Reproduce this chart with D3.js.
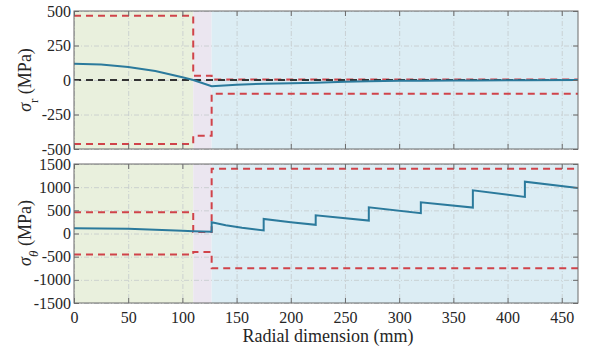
<!DOCTYPE html>
<meta charset="utf-8">
<style>
body { margin: 0; background: #fff; }
.grid line { stroke: #c4c9cc; stroke-width: 0.8px; stroke-dasharray: 5,2,1,2; }
.grid path { stroke-width: 0; }
.axis path, .axis line { stroke: #6b6b6b; }
.curve { fill: none; stroke: #2b7a9c; stroke-width: 2px; }
.limit { fill: none; stroke: #d0434a; stroke-width: 2px; stroke-dasharray: 7,5; }
.zero { fill: none; stroke: #333; stroke-width: 2px; stroke-dasharray: 7,5; }
</style>
<body>
<script src="https://d3js.org/d3.v7.min.js"></script>
<script>

// regions along the radius (mm) and their fills
var regions = [[0, 110], [110, 127], [127, 465]];
var regionColors = ["#e9f0dd", "#ebe6f0", "#dcedf4"];

var xTicks = [0, 50, 100, 150, 200, 250, 300, 350, 400, 450];
var yTicksR = [-500, -250, 0, 250, 500];
var yTicksT = [-1500, -1000, -500, 0, 500, 1000, 1500];

// radial stress (MPa)
var sigmaR = [[0, 118], [25, 112], [50, 95], [75, 65], [100, 20], [110, 0], [127, -45],
  [150, -35], [175, -27], [200, -24], [223, -20], [250, -12], [272, -9], [300, -6],
  [320, -5], [350, -3], [368, -3], [400, -1], [416, -1], [465, 0]];
// radial stress limits
var upperR = [[0, 466], [110, 466], [110, 31], [127, 31], [127, 4], [465, 4]];
var lowerR = [[0, -464], [110, -464], [110, -404], [127, -404], [127, -100], [465, -100]];

// hoop stress (MPa)
var sigmaT = [[0, 115], [50, 100], [100, 60], [110, 50], [127, 40],
  [127, 245], [140, 180], [155, 125], [175, 65],
  [175, 315], [200, 245], [223, 187],
  [223, 393], [272, 280],
  [272, 566], [320, 437],
  [320, 673], [368, 559],
  [368, 931], [416, 789],
  [416, 1118], [465, 982]];
// hoop stress limits
var upperT = [[0, 460], [110, 460], [110, 35], [127, 35], [127, 1400], [465, 1400]];
var lowerT = [[0, -455], [110, -455], [110, -400], [127, -400], [127, -750], [465, -750]];

var FONT = "'Liberation Serif'";

var margin = {left: 74, right: 12},
    width = 590 - margin.left - margin.right;

var svg = d3.select("body").append("svg")
    .attr("width", 590)
    .attr("height", 349);

var x = d3.scaleLinear().domain([0, 465]).range([0, width]);
var fmt = function(d) { return String(d); };

function panel(top, height, domain, ticks) {
  var g = svg.append("g").attr("transform", "translate(" + margin.left + "," + top + ")");
  var y = d3.scaleLinear().domain(domain).range([height, 0]);
  var ln = d3.line().x(function(d) { return x(d[0]); }).y(function(d) { return y(d[1]); });

  g.selectAll("rect.region")
      .data(regions)
    .enter().append("rect")
      .attr("class", "region")
      .attr("x", function(d) { return x(d[0]); })
      .attr("width", function(d) { return x(d[1]) - x(d[0]); })
      .attr("y", 0)
      .attr("height", height)
      .attr("fill", function(d, i) { return regionColors[i]; });

  g.append("g").attr("class", "grid")
      .call(d3.axisBottom(x).tickValues(xTicks).tickSize(height).tickFormat(""));
  g.append("g").attr("class", "grid")
      .call(d3.axisLeft(y).tickValues(ticks).tickSize(-width).tickFormat(""));

  return {g: g, y: y, line: ln, height: height};
}

function frame(p, ticks, showX) {
  var g = p.g, y = p.y, h = p.height;
  var bottom = g.append("g").attr("class", "axis")
      .attr("transform", "translate(0," + h + ")")
      .call(d3.axisBottom(x).tickValues(xTicks).tickSizeInner(-5).tickSizeOuter(0).tickPadding(9).tickFormat(fmt));
  if (!showX) bottom.selectAll("text").remove();
  g.append("g").attr("class", "axis")
      .call(d3.axisTop(x).tickValues(xTicks).tickSizeInner(-5).tickSizeOuter(0).tickFormat(""));
  g.append("g").attr("class", "axis")
      .call(d3.axisLeft(y).tickValues(ticks).tickSizeInner(-5).tickSizeOuter(0).tickPadding(3).tickFormat(fmt));
  g.append("g").attr("class", "axis")
      .attr("transform", "translate(" + width + ",0)")
      .call(d3.axisRight(y).tickValues(ticks).tickSizeInner(-5).tickSizeOuter(0).tickFormat(""));
  g.selectAll(".axis").attr("font-family", null).attr("font-size", null);
  g.selectAll(".axis text")
      .style("font-family", FONT)
      .style("font-size", "16px")
      .style("fill", "#262626");
  g.selectAll(".axis .domain").remove();
  g.append("rect")
      .attr("width", width).attr("height", h)
      .attr("fill", "none").attr("stroke", "#6b6b6b").attr("stroke-width", 1);
}

// top panel: radial stress
var p1 = panel(11, 138, [-500, 500], yTicksR);
p1.g.append("path").datum(upperR).attr("class", "limit").attr("d", p1.line);
p1.g.append("path").datum(lowerR).attr("class", "limit").attr("d", p1.line);
p1.g.append("path").datum([[0, 0], [465, 0]]).attr("class", "zero").attr("d", p1.line);
p1.g.append("path").datum(sigmaR).attr("class", "curve").attr("d", p1.line);
frame(p1, yTicksR, false);

// bottom panel: hoop stress
var p2 = panel(164, 139, [-1500, 1500], yTicksT);
p2.g.append("path").datum(upperT).attr("class", "limit").attr("d", p2.line);
p2.g.append("path").datum(lowerT).attr("class", "limit").attr("d", p2.line);
p2.g.append("path").datum(sigmaT).attr("class", "curve").attr("d", p2.line);
frame(p2, yTicksT, true);

// axis labels
svg.append("text")
    .attr("x", 328)
    .attr("y", 342)
    .attr("text-anchor", "middle")
    .style("font-family", FONT)
    .style("font-size", "18px")
    .style("fill", "#262626")
    .text("Radial dimension (mm)");

function ylabel(cy, sub) {
  var t = svg.append("text")
      .attr("transform", "translate(31," + cy + ") rotate(-90)")
      .attr("text-anchor", "middle")
      .style("font-family", FONT)
      .style("font-size", "18px")
      .style("fill", "#262626");
  t.append("tspan").style("font-style", "italic").text("σ");
  t.append("tspan").attr("dy", 7).style("font-size", "13px")
      .style("font-style", sub === "θ" ? "italic" : "normal").text(sub);
  t.append("tspan").attr("dy", -7).text(" (MPa)");
}
ylabel(80, "r");
ylabel(233, "θ");

</script>
</body>
